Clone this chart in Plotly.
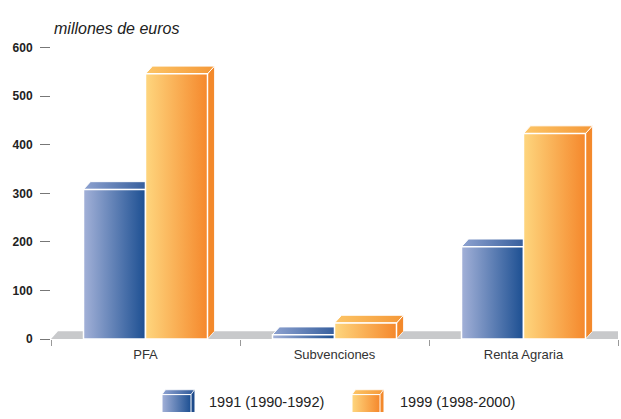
import plotly.graph_objects as go

# ---- data ----
categories = ["PFA", "Subvenciones", "Renta Agraria"]
series_names = ["1991 (1990-1992)", "1999 (1998-2000)"]
values_1991 = [308, 9, 190]
values_1999 = [546, 33, 423]
y_ticks = [0, 100, 200, 300, 400, 500, 600]

# ---- style ----
W, H = 621, 419
SANS = "Liberation Sans, Arial, sans-serif"
styles = [
    dict(front=["#a3b1d8", "#1c4f92"], top=["#8ea2d0", "#2d5898"], side="#1d4a8a"),
    dict(front=["#fed67e", "#f5882c"], top=["#fcc566", "#f59838"], side="#f3892b"),
]
BAR_W = 0.328          # width of each bar, in category units
DX = 7 * 3 / 567       # depth offset (x), category units
DY = 8 * 600 / 301.5   # depth offset (y), value units

# axes domain (pixel based)
x_dom = [51 / W, 618 / W]
y_dom = [(H - 343.5) / H, (H - 42) / H]

fig = go.Figure()

def poly(xs, ys, **kw):
    fig.add_trace(go.Scatter(x=list(xs) + [xs[0]], y=list(ys) + [ys[0]],
                             mode="lines", fill="toself", showlegend=False,
                             hoverinfo="skip", **kw))

# floor
poly([-0.5, 2.5, 2.5 + DX, -0.5 + DX], [0, 0, DY, DY],
     fillcolor="#c8c9cb", line=dict(width=0))

all_vals = [values_1991, values_1999]
for i, cat in enumerate(categories):
    for s, vals in enumerate(all_vals):
        st = styles[s]
        v = vals[i]
        x0 = i - BAR_W if s == 0 else i
        x1 = x0 + BAR_W
        # right side face
        poly([x1, x1 + DX, x1 + DX, x1], [0, DY, v + DY, v],
             fillcolor=st["side"], line=dict(width=0.8, color="white"))
        # top face
        poly([x0, x1, x1 + DX, x0 + DX], [v, v, v + DY, v + DY],
             fillcolor=st["top"][1],
             fillgradient=dict(type="horizontal", start=x0, stop=x1 + DX,
                               colorscale=[[0, st["top"][0]], [1, st["top"][1]]]),
             line=dict(width=1, color="white"))
        # front face
        poly([x0, x1, x1, x0], [0, 0, v, v],
             fillcolor=st["front"][1],
             fillgradient=dict(type="horizontal", start=x0, stop=x1,
                               colorscale=[[0, st["front"][0]], [1, st["front"][1]]]),
             line=dict(width=1.5, color="white"),
             name=series_names[s])

# ---- custom legend (pixel overlay axes) ----
legend_items = [(162, 191, 207), (352, 380, 398)]
for s, (lx0, lx1, tx) in enumerate(legend_items):
    st = styles[s]
    ty0, ty1 = 401, 430
    ddx, ddy = 3.5, 5
    fig.add_trace(go.Scatter(x=[lx1, lx1 + ddx, lx1 + ddx, lx1, lx1],
                             y=[ty0, ty0 - ddy, ty1, ty1, ty0], xaxis="x2", yaxis="y2",
                             mode="lines", fill="toself", fillcolor=st["side"],
                             line=dict(width=0), showlegend=False, hoverinfo="skip"))
    fig.add_trace(go.Scatter(x=[lx0, lx1, lx1 + ddx, lx0 + ddx, lx0],
                             y=[ty0, ty0, ty0 - ddy, ty0 - ddy, ty0], xaxis="x2", yaxis="y2",
                             mode="lines", fill="toself", fillcolor=st["top"][1],
                             fillgradient=dict(type="horizontal", start=lx0, stop=lx1 + ddx,
                                               colorscale=[[0, st["top"][0]], [1, st["top"][1]]]),
                             line=dict(width=0.8, color="white"), showlegend=False, hoverinfo="skip"))
    fig.add_trace(go.Scatter(x=[lx0, lx1, lx1, lx0, lx0],
                             y=[ty0, ty0, ty1, ty1, ty0], xaxis="x2", yaxis="y2",
                             mode="lines", fill="toself", fillcolor=st["front"][1],
                             fillgradient=dict(type="horizontal", start=lx0, stop=lx1,
                                               colorscale=[[0, st["front"][0]], [1, st["front"][1]]]),
                             line=dict(width=1, color="white"), showlegend=False, hoverinfo="skip"))
    fig.add_annotation(x=tx / W, y=(H - 409) / H, xref="paper", yref="paper",
                       text=series_names[s], showarrow=False, xanchor="left", yanchor="middle",
                       font=dict(family=SANS, size=14.5, color="#222"))

fig.add_annotation(x=52 / W, y=(H - 22) / H, xref="paper", yref="paper",
                   text="<i>millones de euros</i>", showarrow=False,
                   xanchor="left", yanchor="middle",
                   font=dict(family=SANS, size=16, color="#222"))

fig.update_layout(
    width=W, height=H,
    margin=dict(l=0, r=0, t=0, b=0),
    paper_bgcolor="white", plot_bgcolor="rgba(0,0,0,0)",
    showlegend=False,
    xaxis=dict(domain=x_dom, range=[-0.5, 2.5], tickmode="array",
               tickvals=list(range(len(categories))), ticktext=categories,
               ticks="", ticklen=0, showgrid=False, zeroline=False, showline=False,
               tickfont=dict(family=SANS, size=13, color="#333"),
               ticklabelstandoff=6,
               minor=dict(tickmode="array", tickvals=[-0.5, 0.5, 1.5, 2.5],
                          ticks="outside", ticklen=6, tickcolor="#999", tickwidth=1,
                          showgrid=False),
               fixedrange=True),
    yaxis=dict(domain=y_dom, range=[0, 600], tickmode="array", tickvals=y_ticks,
               ticks="outside", ticklen=10, tickcolor="#777", tickwidth=1,
               showgrid=False, zeroline=False, showline=False,
               tickfont=dict(family=SANS, size=12, color="#222", weight="bold"),
               ticklabelstandoff=5, fixedrange=True),
    xaxis2=dict(domain=[0, 1], range=[0, W], visible=False, anchor="y2", fixedrange=True),
    yaxis2=dict(domain=[0, 1], range=[H, 0], visible=False, anchor="x2", fixedrange=True),
)

post = ("document.documentElement.style.margin='0';"
        "document.body.style.margin='0';"
        "document.body.style.padding='0';"
        "document.documentElement.style.overflow='hidden';"
        "document.body.style.overflow='hidden';")
fig.write_html("out.html", config={"displayModeBar": False}, post_script=post)
